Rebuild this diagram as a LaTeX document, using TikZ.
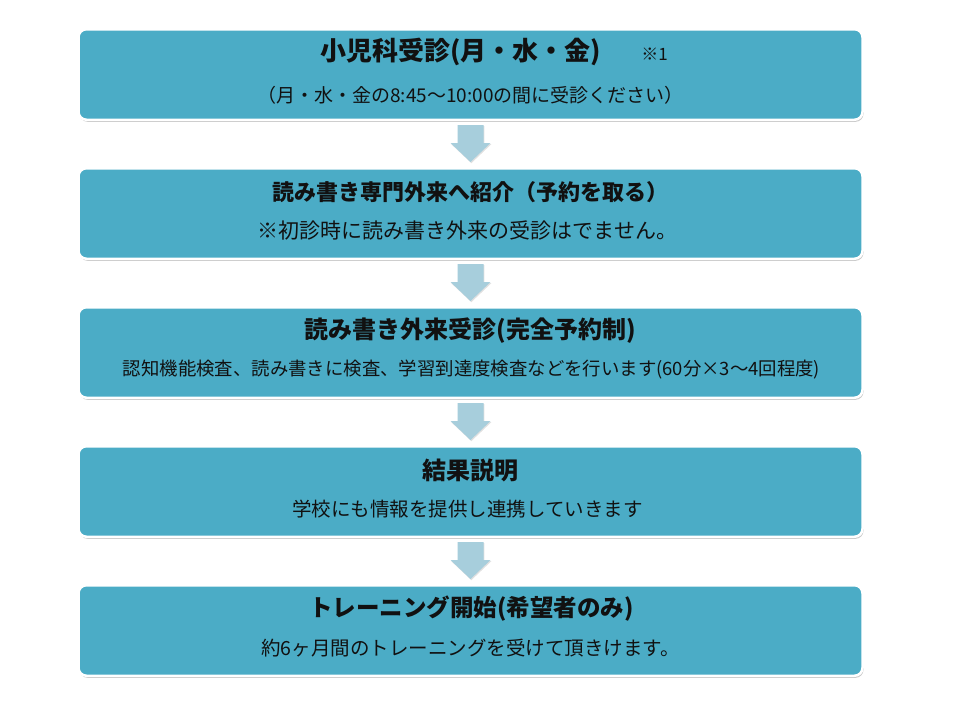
\documentclass[tikz,border=0pt]{standalone}
\usepackage{fontspec}
\setmainfont{Noto Sans CJK JP}
\usetikzlibrary{calc,shadows}
\definecolor{boxfill}{HTML}{4BACC6}
\definecolor{arrowfill}{HTML}{A7CEDC}
\definecolor{txt}{HTML}{111111}
\tikzset{
  stepbox/.style={rectangle, rounded corners=8pt, fill=boxfill, draw=white,
    line width=2.5pt, minimum width=784pt, minimum height=90.5pt, inner sep=0pt,
    drop shadow={shadow xshift=1pt, shadow yshift=-2pt, fill=black, opacity=0.22}},
  ttltext/.style={font=\bfseries\fontsize{#1}{#1}\selectfont, text=txt, inner sep=0pt},
  subtext/.style={font=\fontsize{#1}{#1}\selectfont, text=txt, inner sep=0pt},
  arrowshape/.style={fill=arrowfill,
    drop shadow={shadow xshift=0.8pt, shadow yshift=-1.2pt, fill=black, opacity=0.12}},
}
\begin{document}
\begin{tikzpicture}[x=1pt,y=-1pt]
\fill[white] (0,0) rectangle (960,720);
\useasboundingbox (0,0) rectangle (960,720);

\node[stepbox] (b1) at (470.5,74.5) {};
\node[stepbox] (b2) at (470.5,213.5) {};
\node[stepbox] (b3) at (470.5,352.5) {};
\node[stepbox] (b4) at (470.5,491.5) {};
\node[stepbox] (b5) at (470.5,630.5) {};

\foreach \a/\b [count=\i] in {b1/b2,b2/b3,b3/b4,b4/b5}{
  \coordinate (m\i) at ($(\a.south)!0.5!(\b.north)$);
  \path[arrowshape] ($(m\i)+(-13,-19)$) -- ($(m\i)+(13,-19)$) -- ($(m\i)+(13,-1)$)
    -- ($(m\i)+(20,-1)$) -- ($(m\i)+(0,18)$) -- ($(m\i)+(-20,-1)$)
    -- ($(m\i)+(-13,-1)$) -- cycle;
}

\node[ttltext=26, anchor=west] (t1) at ($(b1.north west)+(243,23.5)$)
  {小児科受診(月・水・金)\hspace{40pt}{\mdseries\fontsize{17}{17}\selectfont ※1}};
\node[subtext=19] (s1) at ($(b1.north)+(0,67)$)
  {（月・水・金の8:45～10:00の間に受診ください）};

\node[ttltext=22] (t2) at ($(b2.north)+(0,25)$)
  {読み書き専門外来へ紹介（予約を取る）};
\node[subtext=21] (s2) at ($(b2.north)+(-3,64)$)
  {※初診時に読み書き外来の受診はでません。};

\node[ttltext=24] (t3) at ($(b3.north)+(0,25)$)
  {読み書き外来受診(完全予約制)};
\node[subtext=18.4] (s3) at ($(b3.north)+(1,64)$)
  {認知機能検査、読み書きに検査、学習到達度検査などを行います(60分×3～4回程度)};

\node[ttltext=24] (t4) at ($(b4.north)+(0,25)$)
  {結果説明};
\node[subtext=19.5] (s4) at ($(b4.north)+(-3,64)$)
  {学校にも情報を提供し連携していきます};

\node[ttltext=23.5] (t5) at ($(b5.north)+(1,25)$)
  {トレーニング開始(希望者のみ)};
\node[subtext=19.5] (s5) at ($(b5.north)+(0,64)$)
  {約6ヶ月間のトレーニングを受けて頂きけます。};
\end{tikzpicture}
\end{document}
